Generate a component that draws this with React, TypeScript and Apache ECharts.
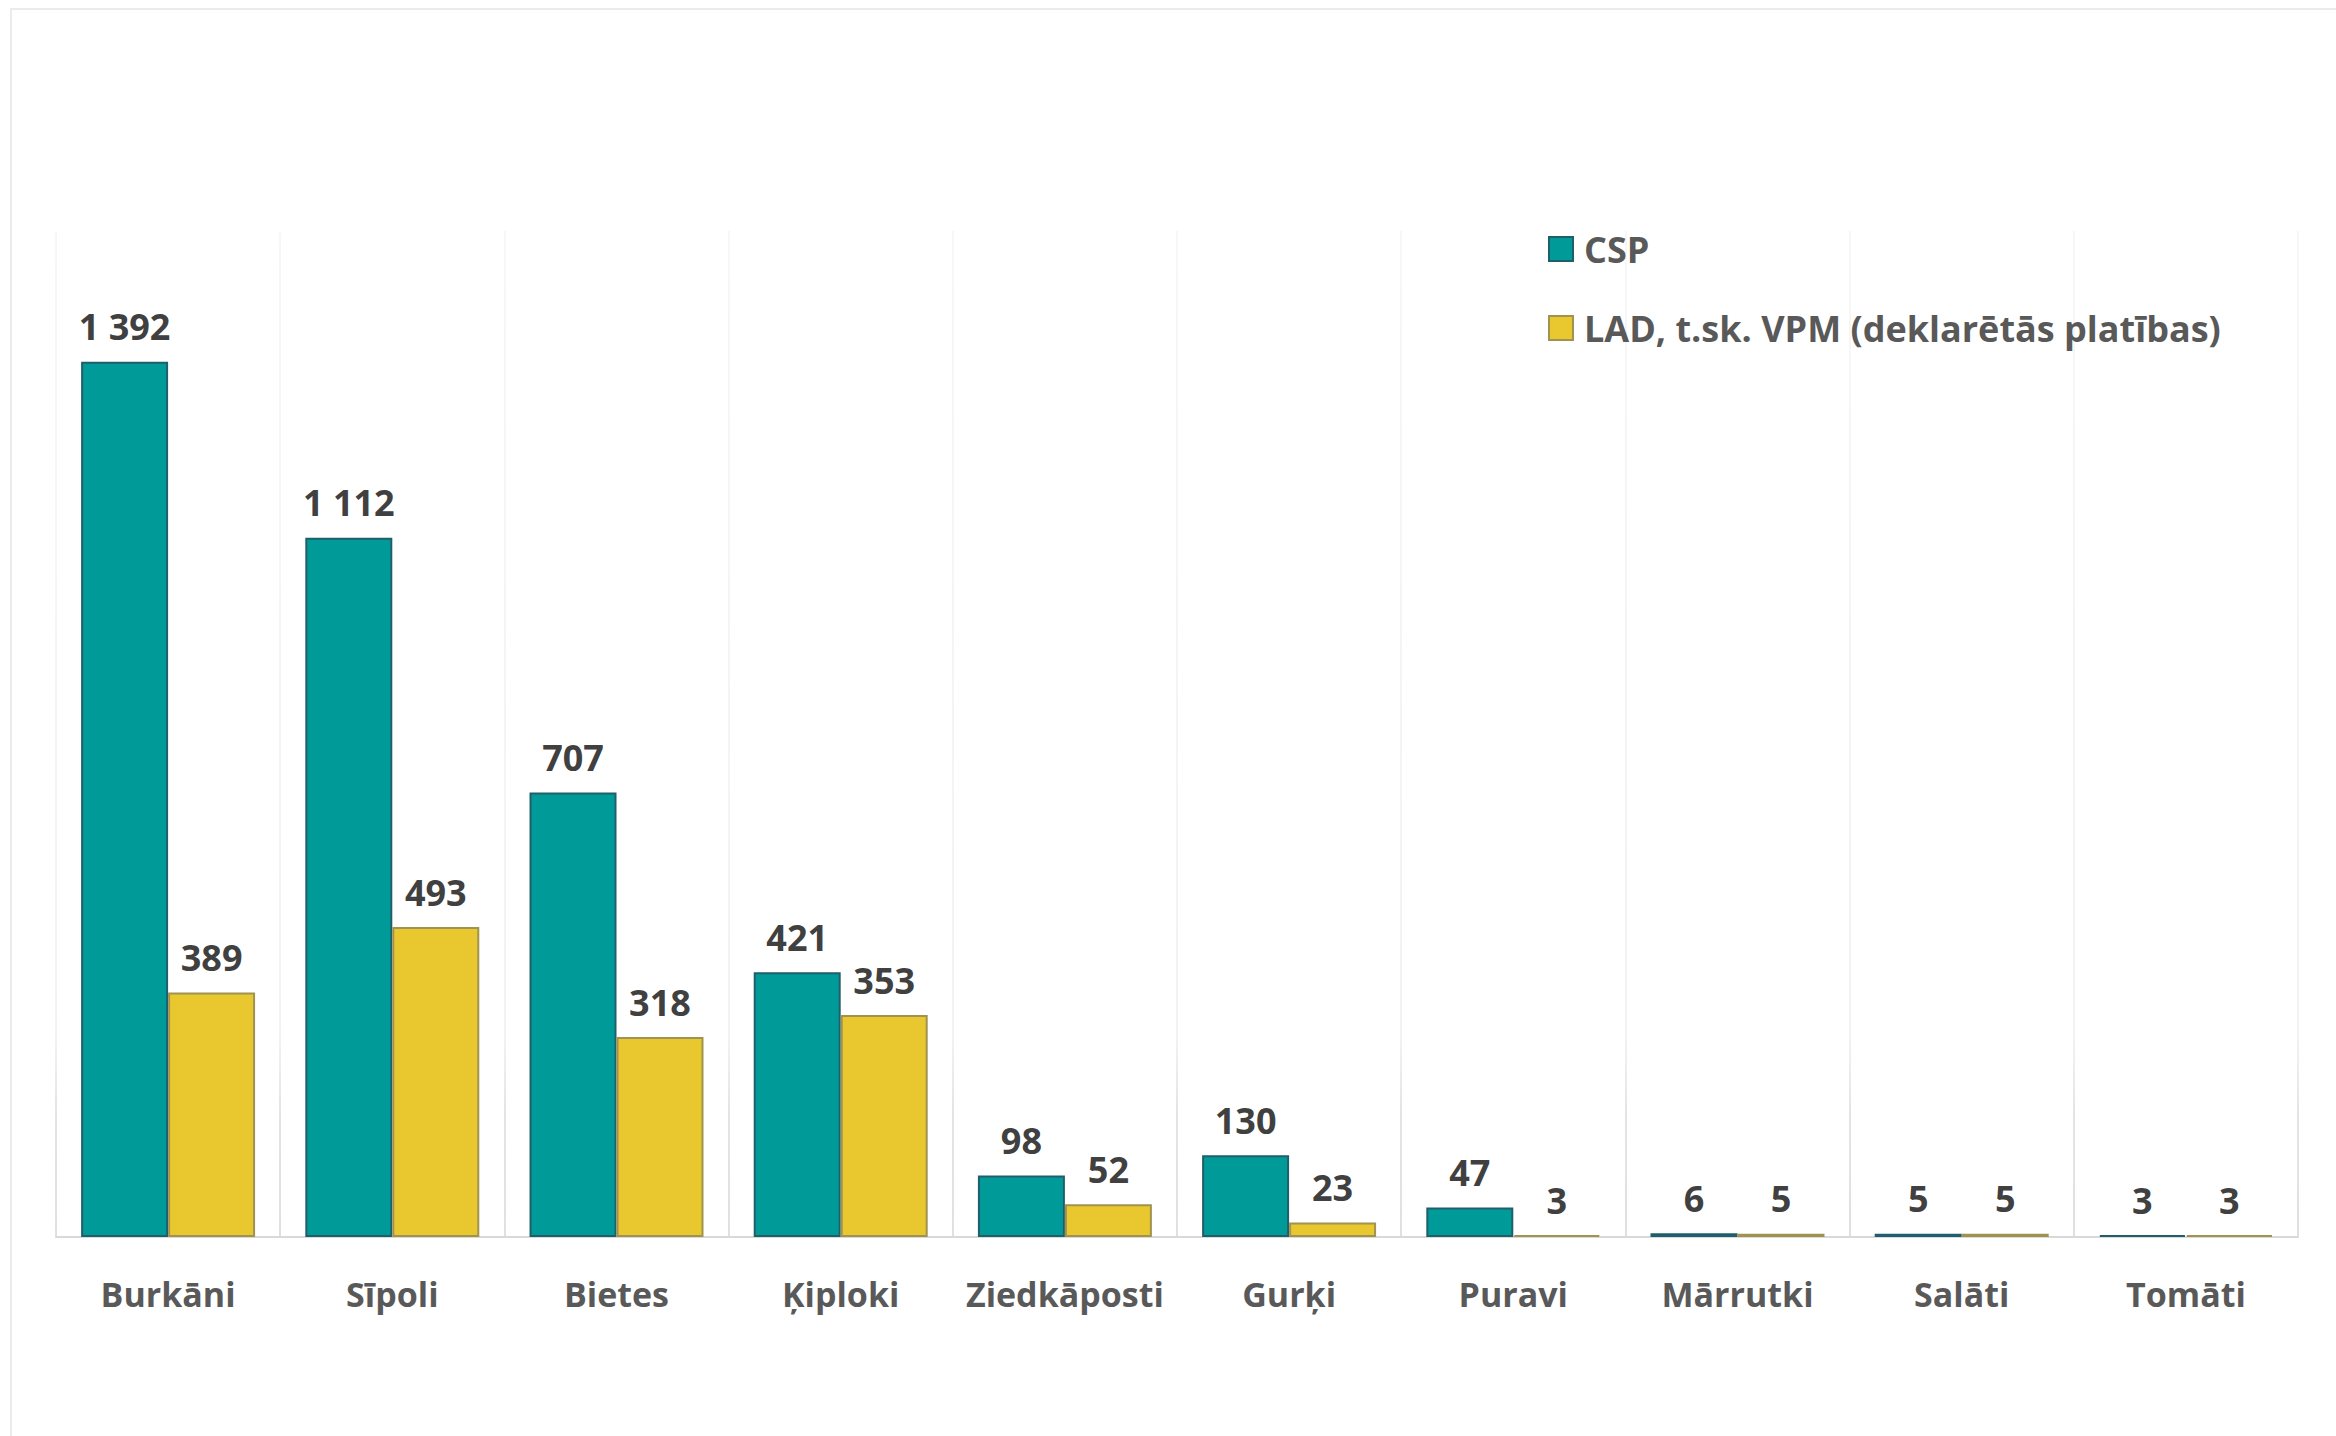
import React, { useEffect, useRef } from "react";
import * as echarts from "echarts";

const categories = ["Burkāni", "Sīpoli", "Bietes", "Ķiploki", "Ziedkāposti", "Gurķi", "Puravi", "Mārrutki", "Salāti", "Tomāti"];
const cspValues = [1392, 1112, 707, 421, 98, 130, 47, 6, 5, 3];
const ladValues = [389, 493, 318, 353, 52, 23, 3, 5, 5, 3];
const seriesNames = ["CSP", "LAD, t.sk. VPM (deklarētās platības)"];

const FONT = "'Open Sans', 'Noto Sans', sans-serif";

function fmt(v: number): string {
  return String(v).replace(/\B(?=(\d{3})+(?!\d))/g, " ");
}

export default function App() {
  const ref = useRef<HTMLDivElement>(null);
  useEffect(() => {
    if (!ref.current) return;
    const chart = echarts.init(ref.current, undefined, { renderer: "svg" });
    const gridTop = 231;
    const gridBottomY = 1237;
    const labelCommon = {
      show: true,
      position: "top" as const,
      distance: 17,
      fontFamily: FONT,
      fontWeight: "bold" as const,
      fontSize: 36,
      color: "#404040",
      formatter: (p: any) => fmt(p.value),
    };
    chart.setOption({
      animation: false,
      backgroundColor: "#ffffff",
      graphic: [
        {
          type: "rect",
          shape: { x: 11, y: 9, width: 2400, height: 1500 },
          style: { fill: "none", stroke: "#EBEBEB", lineWidth: 2 },
          silent: true,
          z: -10,
        },
      ],
      legend: {
        orient: "vertical",
        left: 1548,
        top: 229,
        padding: 0,
        itemWidth: 24,
        itemHeight: 24,
        itemGap: 39,
        icon: "rect",
        textStyle: {
          fontFamily: FONT,
          fontWeight: "bold",
          fontSize: 36,
          lineHeight: 40,
          color: "#595959",
          padding: [0, 0, 0, 6],
        },
        data: seriesNames,
      },
      grid: {
        left: 56,
        right: 2336 - 2298,
        top: gridTop,
        bottom: 1436 - gridBottomY,
        containLabel: false,
      },
      xAxis: {
        type: "category",
        data: categories,
        boundaryGap: true,
        axisTick: { show: false },
        axisLine: { show: true, lineStyle: { color: "#D9D9D9", width: 2 } },
        axisLabel: {
          margin: 40,
          fontFamily: FONT,
          fontWeight: "bold",
          fontSize: 34,
          color: "#595959",
          interval: 0,
        },
        splitLine: {
          show: true,
          lineStyle: {
            width: 1.5,
            color: new echarts.graphic.LinearGradient(
              0,
              gridTop,
              0,
              gridBottomY,
              [
                { offset: 0, color: "#F4F4F4" },
                { offset: 0.8, color: "#EEEEEE" },
                { offset: 0.88, color: "#DADADA" },
                { offset: 1, color: "#D6D6D6" },
              ],
              true
            ),
          },
        },
      },
      yAxis: {
        type: "value",
        min: 0,
        max: 1600,
        show: false,
        splitLine: { show: false },
      },
      series: [
        {
          name: seriesNames[0],
          type: "bar",
          data: cspValues,
          barGap: "0%",
          barCategoryGap: "22.4%",
          itemStyle: { color: "#009A99", borderColor: "#1E5F6B", borderWidth: 2 },
          label: labelCommon,
        },
        {
          name: seriesNames[1],
          type: "bar",
          data: ladValues,
          barGap: "0%",
          barCategoryGap: "22.4%",
          itemStyle: { color: "#E8C72F", borderColor: "#A09350", borderWidth: 2 },
          label: labelCommon,
        },
      ],
    });
    return () => chart.dispose();
  }, []);
  return (
    <div
      ref={ref}
      style={{ position: "fixed", left: 0, top: 0, width: 2336, height: 1436, background: "#fff" }}
    />
  );
}
